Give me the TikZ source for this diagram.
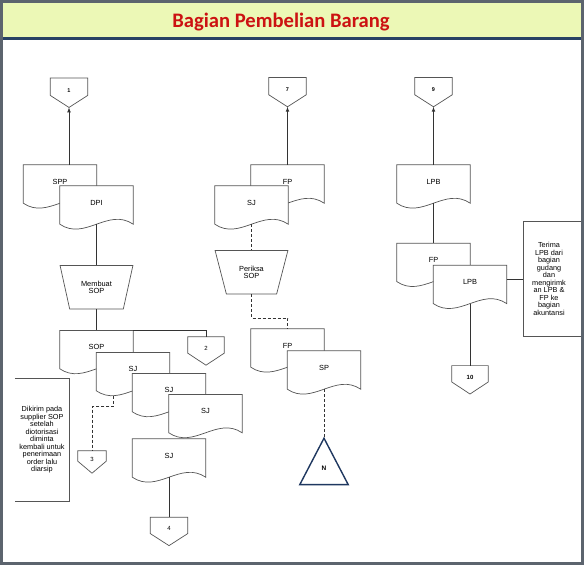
\documentclass[tikz,border=0pt]{standalone}
\usepackage{fontspec}
\setmainfont{Liberation Sans}
\newfontfamily\titlefont{Carlito}
\usepackage{xcolor}
\usepackage{tikz}
\usetikzlibrary{shapes.geometric, arrows, positioning}

\definecolor{framegrey}{RGB}{92,100,110}
\definecolor{barfill}{RGB}{236,248,182}
\definecolor{barline}{RGB}{40,66,100}
\definecolor{titlered}{RGB}{204,18,18}
\definecolor{linegrey}{RGB}{85,85,85}
\definecolor{mergeblue}{RGB}{31,56,96}

\newcommand{\docfont}{\fontsize{7.4}{7.6}\selectfont}
\newcommand{\tagfont}{\fontsize{5.5}{6}\selectfont}
\newcommand{\notefont}{\fontsize{7.3}{7.5}\selectfont}

\begin{document}
\begin{tikzpicture}[x=1pt, y=-1pt, node distance=20pt,
  shapeline/.style={draw=linegrey, line width=0.7pt},
  flowline/.style={draw=black!80, line width=0.7pt},
  dashline/.style={flowline, dash pattern=on 3pt off 2pt},
  docbox/.style={minimum width=73pt, minimum height=38pt, inner sep=0pt, text height=5pt, text depth=5pt, font=\docfont,
    append after command={\pgfextra{\let\docnode\tikzlastnode
      \draw[shapeline, fill=white] (\docnode.south west) -- (\docnode.north west) -- (\docnode.north east) -- (\docnode.south east)
        .. controls ([xshift=-25pt, yshift=17pt]\docnode.south east) and ([xshift=25pt, yshift=-17pt]\docnode.south west) .. (\docnode.south west) -- cycle;}}},
  offpage/.style={minimum width=37pt, minimum height=29pt, inner sep=0pt, text height=5pt, text depth=6pt, font=\tagfont,
    append after command={\pgfextra{\let\tagnode\tikzlastnode
      \draw[shapeline, fill=white] (\tagnode.south) -- ([yshift=12pt]\tagnode.south east) -- (\tagnode.north east)
        -- (\tagnode.north west) -- ([yshift=12pt]\tagnode.south west) -- cycle;}}},
  manualop/.style={trapezium, trapezium stretches=true, shape border rotate=180,
    trapezium left angle=67, trapezium right angle=67, minimum width=73pt, minimum height=43.5pt,
    inner sep=0pt, shapeline, fill=white, align=center, font=\docfont},
  mergetri/.style={minimum width=48pt, minimum height=46pt, inner sep=0pt, text height=19pt, text depth=0pt,
    font=\fontsize{6.5}{7}\selectfont\bfseries,
    append after command={\pgfextra{\let\mergenode\tikzlastnode
      \draw[draw=mergeblue, line width=1.4pt, fill=white] (\mergenode.north) -- (\mergenode.south east) -- (\mergenode.south west) -- cycle;}}},
  notebox/.style={minimum width=54pt, minimum height=122pt, inner sep=0pt, align=center, font=\notefont}]

\useasboundingbox (0,0) rectangle (584,565);
\fill[white] (0,0) rectangle (584,565);
\fill[barfill] (2,2) rectangle (582,37);
\draw[barline, line width=3pt] (2,38.5) -- (582,38.5);
\node (title) [anchor=base, font=\titlefont\bfseries\fontsize{20.6}{24}\selectfont, text=titlered] at (281,27.7) {Bagian Pembelian Barang};

% kolom kiri
\node (spp) [docbox] at (60,184) {SPP};
\node (dpi) [docbox] at ([shift={(36.5,21)}]spp) {DPI};
\node (mksop) [manualop, below=41pt of dpi] {Membuat\\SOP};
\node (sop) [docbox, below=21pt of mksop] {SOP};
\node (sj1) [docbox] at ([shift={(36.5,22)}]sop) {SJ};
\node (sj2) [docbox] at ([shift={(36,21)}]sj1) {SJ};
\node (sj3) [docbox] at ([shift={(36.5,21)}]sj2) {SJ};
\node (sj4) [docbox, below=27pt of sj2] {SJ};
\node (con1) [offpage, font=\tagfont\bfseries] at (69,92.75) {1};
\node (con2) [offpage, minimum width=36pt, minimum height=28pt, font=\fontsize{6}{7}\selectfont] at (206,351) {2};
\node (con3) [offpage, minimum width=28pt, minimum height=22pt, font=\fontsize{6}{7}\selectfont] at (92,462) {3};
\node (con4) [offpage, minimum height=28pt, font=\fontsize{6}{7}\selectfont, below=40pt of sj4] {4};
\node (note1) [notebox] at (42,440) {Dikirim pada\\supplier SOP\\setelah\\diotorisasi\\diminta\\kembali untuk\\penerimaan\\order lalu\\diarsip};

\draw[flowline, -latex] (con1.south |- spp.north) -- (con1.south);
\draw[flowline] (dpi.south) -- (mksop.north);
\draw[flowline] (mksop.south) -- (sop.north);
\draw[flowline] (sop.north east) -| (con2.north);
\coordinate (sj1foot) at ([xshift=17pt, yshift=-5pt]sj1.south west);
\draw[dashline] (sj1foot) -- ++(0,11) -| (con3.north);
\draw[flowline] (sj4.south) -- (con4.north);
\draw[shapeline] (note1.north west) -- (note1.north east) -- (note1.south east) -- (note1.south west);

% kolom tengah
\node (fpa) [docbox] at (287.5,184) {FP};
\node (sja) [docbox] at ([shift={(-36,21)}]fpa) {SJ};
\node (periksa) [manualop, below=26pt of sja] {Periksa\\SOP};
\node (fpb) [docbox] at (287.5,348) {FP};
\node (sp) [docbox] at ([shift={(36.5,22)}]fpb) {SP};
\node (nmerge) [mergetri, below=49pt of sp] {N};
\node (con7) [offpage, font=\tagfont\bfseries, above=58pt of fpa] {7};

\draw[flowline, -latex] (fpa.north) -- (con7.south);
\draw[dashline] (sja.south) -- (periksa.north);
\draw[dashline] (periksa.south) -- ++(0,24) -| (fpb.north);
\draw[dashline] (sp.south) -- (nmerge.north);

% kolom kanan
\node (lpba) [docbox] at (433.5,184) {LPB};
\node (fpc) [docbox, below=40pt of lpba] {FP};
\node (lpbb) [docbox] at ([shift={(36.5,22)}]fpc) {LPB};
\node (con9) [offpage, font=\tagfont\bfseries, above=58pt of lpba] {9};
\node (con10) [offpage, minimum width=36pt, minimum height=28pt, font=\fontsize{6}{7}\selectfont\bfseries, below=62pt of lpbb] {10};
\node (note2) [notebox, minimum width=50pt, minimum height=114pt] at (549,279) {Terima\\LPB dari\\bagian\\gudang\\dan\\mengirimk\\an LPB \&\\FP ke\\bagian\\akuntansi};

\draw[flowline, -latex] (lpba.north) -- (con9.south);
\draw[flowline] (lpba.south) -- (fpc.north);
\draw[flowline] (lpbb.south) -- (con10.north);
\draw[flowline] (note2.west -| lpbb.east) -- (note2.west);
\draw[shapeline] ([xshift=40pt]note2.north east) -- (note2.north west) -- (note2.south west) -- ([xshift=40pt]note2.south east);

\draw[framegrey, line width=3pt] (1.5,1.5) rectangle (582.5,563.5);
\end{tikzpicture}
\end{document}
